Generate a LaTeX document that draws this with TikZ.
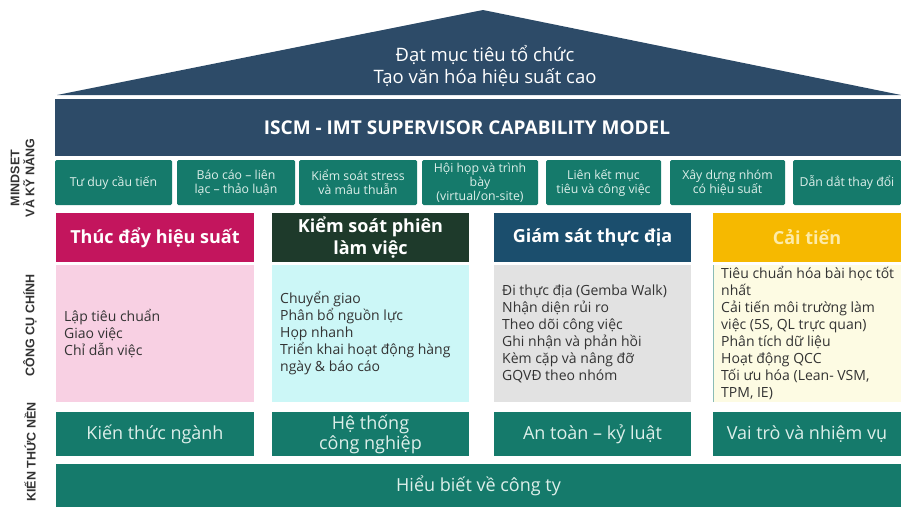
\documentclass[tikz,border=0pt]{standalone}
\usepackage{fontspec}
\setmainfont{Open Sans}
\newfontfamily\sidefont{Liberation Sans}
\usepackage{xcolor}
\usepackage{tikz}

\definecolor{slate}{HTML}{2D4B68}
\definecolor{teal0}{HTML}{157A6B}
\definecolor{mint}{HTML}{DDEFEA}
\definecolor{ink}{HTML}{333333}
\definecolor{magenta0}{HTML}{C3155D}
\definecolor{pink0}{HTML}{F8D0E3}
\definecolor{forest}{HTML}{1E3A2B}
\definecolor{cyan0}{HTML}{CCF7F7}
\definecolor{navy0}{HTML}{1B4E6D}
\definecolor{gray0}{HTML}{E2E2E2}
\definecolor{amber}{HTML}{F6B900}
\definecolor{cream}{HTML}{FDFBE3}
\definecolor{paleyellow}{HTML}{FDEBA8}

\begin{document}
\begin{tikzpicture}[x=1pt,y=-1pt,
		cell/.style={inner sep=0pt,outer sep=0pt,align=center},
		skill/.style={cell,fill=teal0,rounded corners=1.5pt,text=mint,font=\fontsize{12.3}{14}\selectfont,minimum height=45pt},
		head/.style={cell,text=white,font=\fontsize{18}{22}\selectfont\bfseries,minimum height=49pt},
		tool/.style={cell,minimum height=137pt},
		list/.style={inner sep=0pt,anchor=west,align=left,text=ink,font=\fontsize{14}{17}\selectfont},
		base/.style={cell,fill=teal0,text=mint,font=\fontsize{18}{20}\selectfont,minimum height=44pt},
		side/.style={rotate=90,inner sep=0pt,align=center,text=ink,font=\sidefont\bfseries\fontsize{12.5}{15}\selectfont}]
		\useasboundingbox (0,0) rectangle (901,506);
		
		\fill[slate] (57,95) -- (483,10) -- (901,95) -- cycle;
		\node[text=white,align=center,font=\fontsize{18.5}{22}\selectfont] (goal) at (485,66) {Đạt mục tiêu tổ chức\\Tạo văn hóa hiệu suất cao};
		
		\node[cell,fill=slate,minimum width=846pt,minimum height=57pt] (band) at (478,127.5) {};
		\node[text=white,font=\fontsize{19}{22}\selectfont\bfseries] (model) at (467,128) {ISCM - IMT SUPERVISOR CAPABILITY MODEL};
		
		\node[skill,minimum width=117pt] (s1) at (113.5,182.5) {Tư duy cầu tiến};
		\node[skill,minimum width=118pt] (s2) at (236,182.5) {Báo cáo -- liên\\lạc -- thảo luận};
		\node[skill,minimum width=118pt] (s3) at (358,182.5) {Kiểm soát stress\\và mâu thuẫn};
		\node[skill,minimum width=116pt] (s4) at (480,182.5) {Hội họp và trình\\bày\\(virtual/on-site)};
		\node[skill,minimum width=115pt] (s5) at (603.5,182.5) {Liên kết mục\\tiêu và công việc};
		\node[skill,minimum width=115pt] (s6) at (727.5,182.5) {Xây dựng nhóm\\có hiệu suất};
		\node[skill,minimum width=108pt] (s7) at (847,182.5) {Dẫn dắt thay đổi};
		
		\node[head,fill=magenta0,minimum width=198pt] (h1) at (155,237.5) {Thúc đẩy hiệu suất};
		\node[head,fill=forest,minimum width=197pt] (h2) at (370.5,237.5) {Kiểm soát phiên\\làm việc};
		\node[head,fill=navy0,minimum width=197pt] (h3) at (592.5,237.5) {Giám sát thực địa};
		\node[head,fill=amber,text=paleyellow,minimum width=188pt] (h4) at (807,237.5) {Cải tiến};
		
		\node[tool,fill=pink0,minimum width=198pt] (t1) at (155,333.5) {};
		\node[tool,fill=cyan0,minimum width=197pt] (t2) at (370.5,333.5) {};
		\node[tool,fill=gray0,minimum width=197pt] (t3) at (592.5,333.5) {};
		\node[tool,fill=cream,minimum width=188pt] (t4) at (807,333.5) {};
		\draw[teal0!50,line width=0.6pt] (t4.north west) -- (t4.south west);
		
		\node[list] (l1) at ([xshift=8pt]t1.west) {Lập tiêu chuẩn\\Giao việc\\Chỉ dẫn việc};
		\node[list] (l2) at ([xshift=8pt]t2.west) {Chuyển giao\\Phân bổ nguồn lực\\Họp nhanh\\Triển khai hoạt động hàng\\ngày \& báo cáo};
		\node[list] (l3) at ([xshift=8pt]t3.west) {Đi thực địa (Gemba Walk)\\Nhận diện rủi ro\\Theo dõi công việc\\Ghi nhận và phản hồi\\Kèm cặp và nâng đỡ\\GQVĐ theo nhóm};
		\node[list] (l4) at ([xshift=8pt]t4.west) {Tiêu chuẩn hóa bài học tốt\\nhất\\Cải tiến môi trường làm\\việc (5S,  QL trực quan)\\Phân tích dữ liệu\\Hoạt động QCC\\Tối ưu hóa (Lean- VSM,\\TPM, IE)};
		
		\node[base,minimum width=198pt] (k1) at (155,434) {Kiến thức ngành};
		\node[base,minimum width=197pt] (k2) at (370.5,434) {Hệ thống\\công nghiệp};
		\node[base,minimum width=197pt] (k3) at (592.5,434) {An toàn -- kỷ luật};
		\node[base,minimum width=188pt] (k4) at (807,434) {Vai trò và nhiệm vụ};
		\node[base,minimum width=845pt,minimum height=44pt] (company) at (478.5,486) {Hiểu biết về công ty};
		
		\node[side] (mindset) at (22.5,178) {MINDSET\\VÀ KỸ NĂNG};
		\node[side] (tools) at (30,325) {CÔNG CỤ CHÍNH};
		\node[side] (knowledge) at (30,452) {KIẾN THỨC NỀN};
	\end{tikzpicture}
\end{document}
